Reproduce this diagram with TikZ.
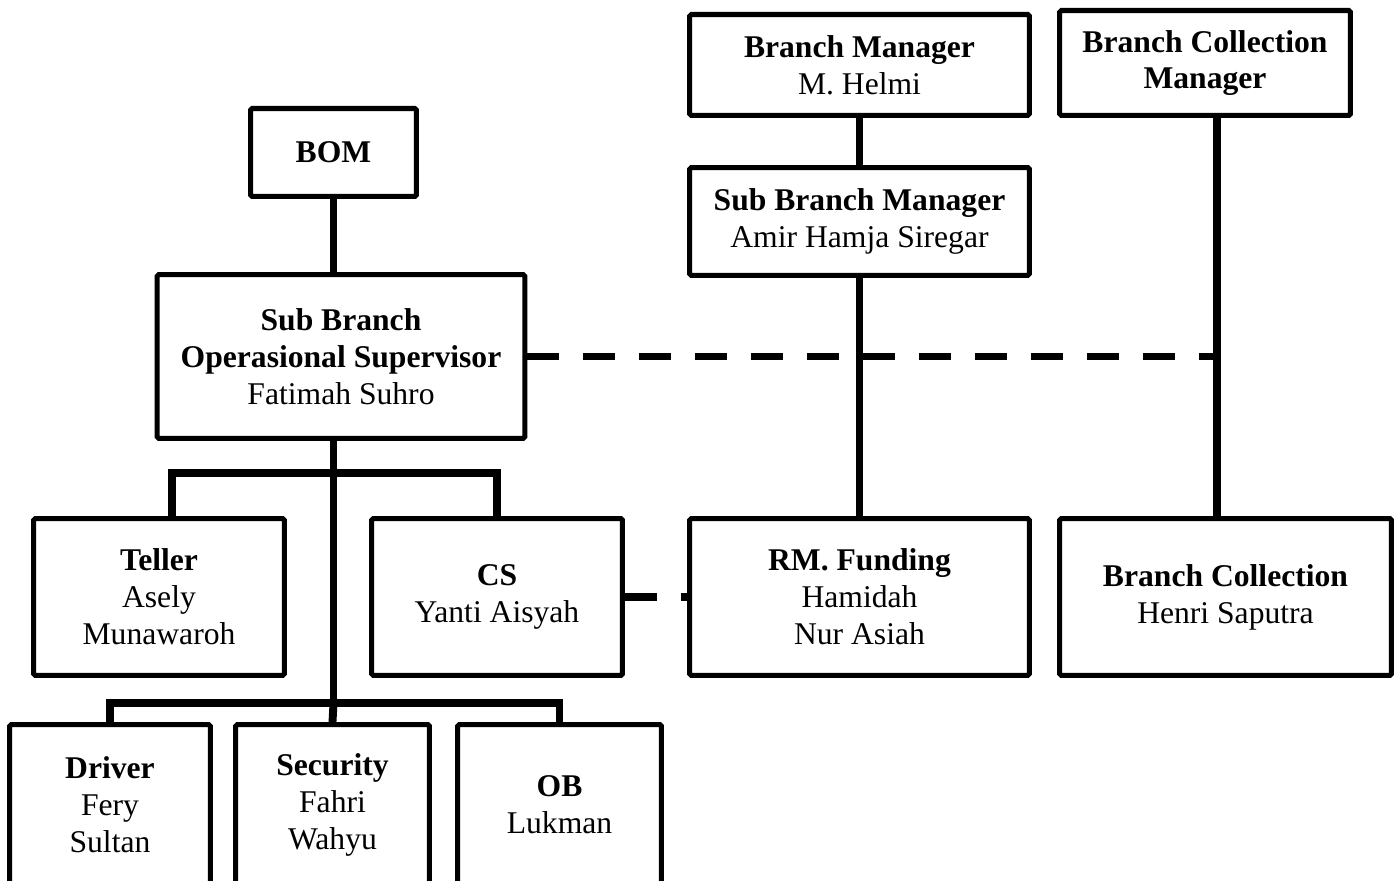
\documentclass[tikz,border=0pt]{standalone}
\usepackage{fontspec}
\setmainfont{Liberation Serif}
\usetikzlibrary{calc}

\begin{document}
\begin{tikzpicture}[x=0.02cm,y=-0.02cm,post/.style={draw,line width=2.85pt,rounded corners=1pt,align=center,fill=white,font=\fontsize{18}{21}\selectfont,inner sep=0pt},link/.style={line width=4.5pt},dotlink/.style={line width=4.5pt,dash pattern=on 0.64cm off 0.48cm}]
  \useasboundingbox (0,0) rectangle (1396,881);
  \clip (0,0) rectangle (1396,881);
  % top row
  \node[post,minimum width=3.32cm,minimum height=1.76cm] (bom) at (333.5,152.5) {\textbf{BOM}};
  \node[post,minimum width=6.8cm,minimum height=2.02cm] (bm) at (859.5,65) {\textbf{Branch Manager}\\M. Helmi};
  \node[post,minimum width=5.82cm,minimum height=2.1cm] (bcm) at (1205,63) {\textbf{Branch Collection}\\\textbf{Manager}};
  \node[post,minimum width=6.8cm,minimum height=2.16cm] (sbm) at (859.5,221.5) {\textbf{Sub Branch Manager}\\Amir Hamja Siregar};
  \node[post,minimum width=7.36cm,minimum height=3.28cm] (sbos) at (341,356.5) {\textbf{Sub Branch}\\\textbf{Operasional Supervisor}\\Fatimah Suhro};
  % middle row
  \node[post,minimum width=5.02cm,minimum height=3.14cm] (teller) at (159,597) {\textbf{Teller}\\Asely\\Munawaroh};
  \node[post,minimum width=5.02cm,minimum height=3.14cm] (cs) at (497,597) {\textbf{CS}\\Yanti Aisyah};
  \node[post,minimum width=6.8cm,minimum height=3.14cm] (rm) at (859.5,597) {\textbf{RM. Funding}\\Hamidah\\Nur Asiah};
  \node[post,minimum width=6.64cm,minimum height=3.14cm] (bc) at (1225.5,597) {\textbf{Branch Collection}\\Henri Saputra};
  % bottom row
  \node[post,minimum width=4.02cm,minimum height=3.22cm] (driver) at (110,805) {\textbf{Driver}\\Fery\\Sultan};
  \node[post,minimum width=3.88cm,minimum height=3.22cm] (security) at (332.5,805) {\textbf{Security}\\Fahri\\Wahyu};
  \node[post,minimum width=4.08cm,minimum height=3.22cm] (ob) at (559.5,805) {\textbf{OB}\\Lukman};
  % lines
  \coordinate (bcline) at (1217,0);
  \coordinate (busa) at (333.5,473);
  \coordinate (tleg) at (172,473);
  \coordinate (busb) at (333.5,703);
  \draw[link] (bom.south) -- (sbos.north -| bom.south);
  \draw[link] (bm.south) -- (sbm.north);
  \draw[link] (sbm.south) -- (rm.north);
  \draw[link] (bcm.south -| bcline) -- (bc.north -| bcline);
  \draw[link] (sbos.south -| bom.south) -- (busb);
  \draw[link] (teller.north -| tleg) -- (tleg) -- (tleg -| cs.north) -- (cs.north);
  \draw[link] (driver.north) |- (busb) -| (ob.north);
  \draw[link] (busb) -- (security.north);
  \draw[dotlink] (sbos.east) -- (sbos.east -| bcline);
  \draw[dotlink] (cs.east) -- (rm.west);
\end{tikzpicture}
\end{document}
